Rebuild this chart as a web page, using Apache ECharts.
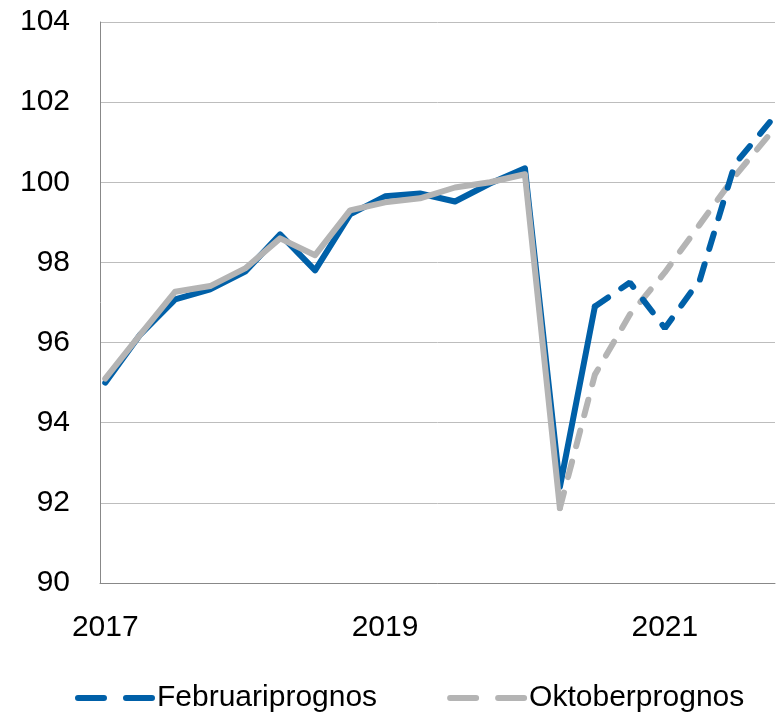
<!DOCTYPE html>
<html>
<head>
<meta charset="utf-8">
<script src="https://cdn.jsdelivr.net/npm/echarts@6/dist/echarts.min.js"></script>
<style>
  html,body{margin:0;padding:0;background:#fff;}
  #chart{width:776px;height:712px;}
</style>
</head>
<body>
<div id="chart"></div>
<script>
// kvartal 2017K1 - 2021K4, index 0..19
var yearLabels = {0: '2017', 8: '2019', 16: '2021'};
var februari = [95.0, 96.2, 97.08, 97.33, 97.77, 98.7, 97.8, 99.2, 99.65, 99.72,
                99.52, 99.97, 100.35, 92.4, 96.9, 97.5, 96.36, 97.56, 100.45, 101.5];
var oktober  = [95.1, 96.2, 97.27, 97.41, 97.85, 98.6, 98.18, 99.3, 99.5, 99.6,
                99.87, 100.0, 100.2, 91.87, 95.2, 96.7, 97.75, 98.95, 100.15, 101.2];
var februariUtfallSlut = 14; // sista utfall
var oktoberUtfallSlut = 13;

var blue = '#0060a8';
var grey = '#b4b4b4';
var font = '"Liberation Sans", Arial, sans-serif';

function pairs(arr, from, to){
  var out = [];
  for (var i = 0; i < arr.length; i++) {
    out.push([i, (i >= from && i <= to) ? arr[i] : null]);
  }
  return out;
}

var myChart = echarts.init(document.getElementById('chart'));
var option = {
  animation: false,
  grid: {left: 100, right: 1, top: 22, bottom: 129, containLabel: false},
  legend: {
    data: ['Februariprognos', 'Oktoberprognos'],
    left: 70,
    top: 678,
    itemWidth: 78,
    itemHeight: 14,
    itemGap: 70,
    textStyle: {fontFamily: font, fontSize: 30, color: '#000', padding: [0, 0, 0, -4]},
    itemStyle: {opacity: 0},
    lineStyle: {width: 6, type: [26, 22], cap: 'round'}
  },
  xAxis: {
    type: 'value',
    min: -0.15,
    max: 19.15,
    splitLine: {show: false},
    axisTick: {show: false},
    axisLine: {show: true, onZero: false, lineStyle: {color: '#888', width: 1}},
    axisLabel: {
      customValues: [0, 8, 16],
      formatter: function(v){ return yearLabels[v] || ''; },
      fontFamily: font, fontSize: 30, color: '#000', margin: 30
    }
  },
  yAxis: {
    type: 'value',
    min: 90,
    max: 104,
    interval: 2,
    axisLine: {show: true, onZero: false, lineStyle: {color: '#888', width: 1}},
    axisTick: {show: false},
    splitLine: {lineStyle: {color: '#bdbdbd', width: 1}},
    axisLabel: {fontFamily: font, fontSize: 30, color: '#000', margin: 30}
  },
  series: [
    {
      name: 'Oktober utfall', type: 'line', symbol: 'none', z: 3,
      data: pairs(oktober, 0, oktoberUtfallSlut),
      lineStyle: {color: grey, width: 6, join: 'round', cap: 'round'}, itemStyle: {color: grey}
    },
    {
      name: 'Oktoberprognos', type: 'line', symbol: 'none', z: 3,
      data: pairs(oktober, oktoberUtfallSlut, 19),
      lineStyle: {color: grey, width: 6, type: [16, 16], cap: 'round'}, itemStyle: {color: grey}
    },
    {
      name: 'Februari utfall', type: 'line', symbol: 'none', z: 2,
      data: pairs(februari, 0, februariUtfallSlut),
      lineStyle: {color: blue, width: 6, join: 'round', cap: 'round'}, itemStyle: {color: blue}
    },
    {
      name: 'Februariprognos', type: 'line', symbol: 'none', z: 4,
      data: pairs(februari, februariUtfallSlut, 19),
      lineStyle: {color: blue, width: 6, type: [16, 16], cap: 'round'}, itemStyle: {color: blue}
    }
  ]
};
myChart.setOption(option);
</script>
</body>
</html>
